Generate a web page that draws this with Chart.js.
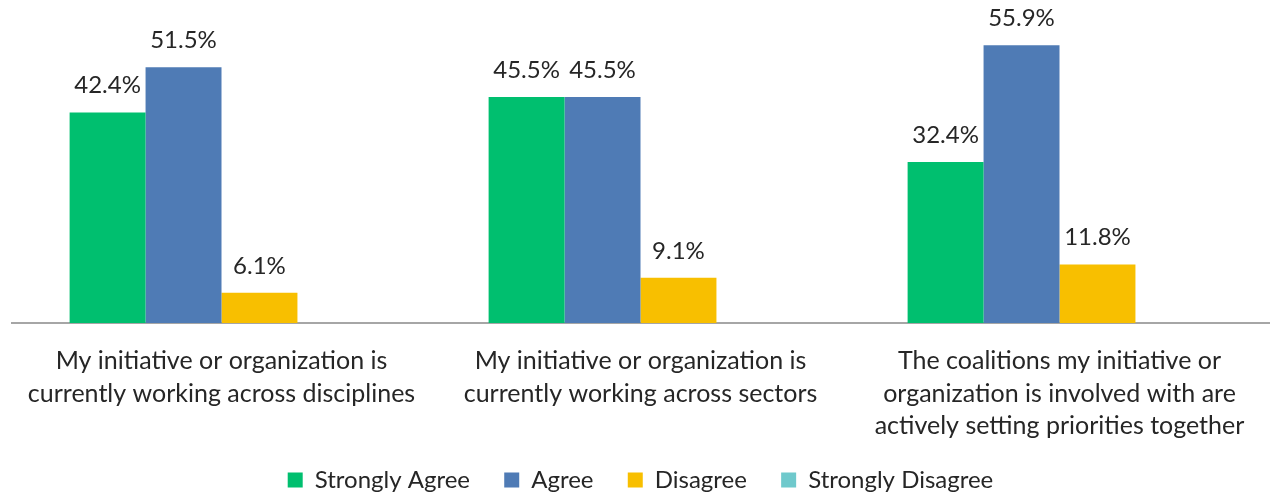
<!DOCTYPE html>
<html>
<head>
<meta charset="utf-8">
<script src="https://cdn.jsdelivr.net/npm/chart.js@4"></script>
<style>
  html, body { margin: 0; padding: 0; background: #fff; overflow: hidden; }
  #wrap { width: 1281px; height: 502px; }
</style>
</head>
<body>
<div id="wrap"><canvas id="barChart"></canvas></div>
<script>
// categories (split into lines as in the picture)
const categories = [
    ['My initiative or organization is', 'currently working across disciplines'],
    ['My initiative or organization is', 'currently working across sectors'],
    ['The coalitions my initiative or', 'organization is involved with are', 'actively setting priorities together']
];
const seriesNames = ['Strongly Agree', 'Agree', 'Disagree', 'Strongly Disagree'];
const stronglyAgree = [42.4, 45.5, 32.4];
const agree = [51.5, 45.5, 55.9];
const disagree = [6.1, 9.1, 11.8];
const stronglyDisagree = [0, 0, 0];
const colors = ['#00BF6F', '#4F7BB5', '#F8BF00', '#6FC9CC'];

const textColor = '#262626';
const fontFamily = 'Lato, "Open Sans", sans-serif';

// draws the % value above each non-zero bar
const valueLabels = {
    id: 'valueLabels',
    afterDatasetsDraw(chart) {
        const ctx = chart.ctx;
        ctx.save();
        ctx.font = '24px ' + fontFamily;
        ctx.fillStyle = textColor;
        ctx.textAlign = 'center';
        ctx.textBaseline = 'alphabetic';
        chart.data.datasets.forEach((ds, i) => {
            chart.getDatasetMeta(i).data.forEach((bar, j) => {
                const v = ds.data[j];
                if (!v) return;
                ctx.fillText(v.toFixed(1) + '%', bar.x, bar.y - 19);
            });
        });
        ctx.restore();
    }
};

const ctx = document.getElementById('barChart').getContext('2d');
const barChart = new Chart(ctx, {
    type: 'bar',
    data: {
        labels: categories,
        datasets: [
            { label: seriesNames[0], data: stronglyAgree, backgroundColor: colors[0] },
            { label: seriesNames[1], data: agree, backgroundColor: colors[1] },
            { label: seriesNames[2], data: disagree, backgroundColor: colors[2] },
            { label: seriesNames[3], data: stronglyDisagree, backgroundColor: colors[3] }
        ]
    },
    options: {
        responsive: true,
        maintainAspectRatio: false,
        animation: false,
        layout: { padding: { top: 25, left: 12, right: 12, bottom: 0 } },
        datasets: {
            bar: { barPercentage: 1, categoryPercentage: 0.725 }
        },
        plugins: {
            tooltip: { enabled: false },
            legend: {
                position: 'bottom',
                labels: {
                    boxWidth: 15,
                    boxHeight: 15,
                    padding: 3.5,
                    color: textColor,
                    font: { size: 24, family: fontFamily },
                    // small vertical padding is needed, so widen the gaps with spaces
                    generateLabels(chart) {
                        const items = Chart.defaults.plugins.legend.labels.generateLabels(chart);
                        items.forEach((it, i) => {
                            if (i < items.length - 1) it.text += '     ';
                        });
                        return items;
                    }
                }
            }
        },
        scales: {
            x: {
                grid: { display: false, drawTicks: false },
                border: { display: true, color: '#A6A6A6', width: 2 },
                ticks: {
                    color: textColor,
                    padding: 22,
                    maxRotation: 0,
                    autoSkip: false,
                    font: { size: 25, family: fontFamily, lineHeight: 1.3 }
                }
            },
            y: {
                display: false,
                min: 0,
                max: 60
            }
        }
    },
    plugins: [valueLabels]
});
</script>
</body>
</html>
